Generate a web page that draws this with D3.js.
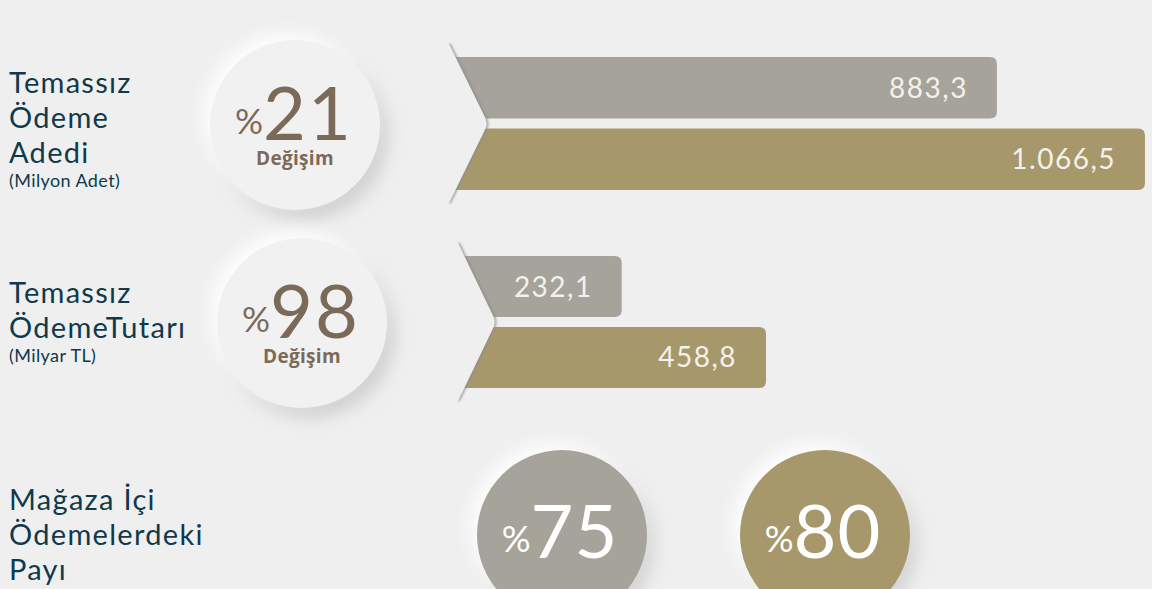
<!DOCTYPE html>
<html>
<head>
<meta charset="utf-8">
<script src="https://cdn.jsdelivr.net/npm/d3@7"></script>
<style>
  html, body { margin: 0; padding: 0; background: #efefef; }
  svg { display: block; }
</style>
</head>
<body>
<div id="chartContainer"></div>
<script>
// Row titles (left column) and units
const rowTitles = [["Temassız", "Ödeme", "Adedi"], ["Temassız", "ÖdemeTutarı"], ["Mağaza İçi", "Ödemelerdeki", "Payı"]];
const rowUnits = ["(Milyon Adet)", "(Milyar TL)", ""];

// Change in % shown in the round badges
const changePct = [21, 98];
const changeLabel = "Değişim";

// Bar values: previous period (grey) and current period (gold)
const seriesKeys = ["previous", "current"];
const previousValues = [883.3, 232.1];
const currentValues = [1066.5, 458.8];

// Share of in-store payments
const sharePct = [75, 80];

const colors = { previous: "#a6a39a", current: "#a7986c", title: "#0e3a4c", badge: "#7b6a58", bg: "#efefef" };

function createChart() {
    const width = 1152;
    const height = 589;

    const tr = d3.formatLocale({ decimal: ",", thousands: ".", grouping: [3], currency: ["", " TL"] });
    const fmt = tr.format(",.1f");

    const svg = d3.create("svg")
        .attr("width", width)
        .attr("height", height)
        .attr("viewBox", `0 0 ${width} ${height}`)
        .style("background", colors.bg);

    const defs = svg.append("defs");
    const soft = defs.append("filter").attr("id", "soft").attr("x", "-50%").attr("y", "-50%").attr("width", "200%").attr("height", "200%");
    soft.append("feGaussianBlur").attr("stdDeviation", 9);
    const edge = defs.append("filter").attr("id", "edge").attr("x", "-20%").attr("y", "-20%").attr("width", "140%").attr("height", "140%");
    edge.append("feDropShadow").attr("dx", 2).attr("dy", 0).attr("stdDeviation", 1.2)
        .attr("flood-color", "#8a8a8a").attr("flood-opacity", 0.7);

    // Left column titles
    const titleLayout = [
        { y: 93, unitY: 187 },
        { y: 303, unitY: 362 },
        { y: 510, unitY: 0 }
    ];
    rowTitles.forEach((lines, i) => {
        const g = svg.append("g");
        g.selectAll("text.t")
            .data(lines)
            .join("text")
            .attr("class", "t")
            .attr("x", 9)
            .attr("y", (d, j) => titleLayout[i].y + j * 35)
            .attr("fill", colors.title)
            .style("font", "29px Lato")
            .style("letter-spacing", "1.3px")
            .text(d => d);
        if (rowUnits[i]) {
            g.append("text")
                .attr("x", 9)
                .attr("y", titleLayout[i].unitY)
                .attr("fill", colors.title)
                .style("font", "18px Lato")
                .style("letter-spacing", "0.4px")
                .text(rowUnits[i]);
        }
    });

    // Bar rows
    const rows = [
        { y0: 57, y1: 190, chevTop: 44, chevBot: 203, chevX: 449, tipX: 488, zero: 283, end: 1145, badge: [295, 125] },
        { y0: 256, y1: 388, chevTop: 243, chevBot: 401, chevX: 458, tipX: 496, zero: 474, end: 766, badge: [302, 323] }
    ];

    rows.forEach((r, i) => {
        const values = [previousValues[i], currentValues[i]];
        const y = d3.scaleBand().domain(seriesKeys).range([r.y0, r.y1]).paddingInner(0.14);
        const x = d3.scaleLinear().domain([0, d3.max(values)]).range([r.zero, r.end]);
        const data = seriesKeys.map((k, j) => ({ key: k, value: values[j] }));
        const startX = r.chevX + 1;

        const g = svg.append("g");
        g.selectAll("path.bar")
            .data(data)
            .join("path")
            .attr("class", "bar")
            .attr("fill", d => colors[d.key])
            .attr("d", d => {
                const x1 = x(d.value), y0 = y(d.key), h = y.bandwidth(), rr = 7;
                return `M${startX},${y0}H${x1 - rr}Q${x1},${y0} ${x1},${y0 + rr}V${y0 + h - rr}Q${x1},${y0 + h} ${x1 - rr},${y0 + h}H${startX}Z`;
            });

        g.selectAll("text.val")
            .data(data)
            .join("text")
            .attr("class", "val")
            .attr("x", d => x(d.value) - 29)
            .attr("y", d => y(d.key) + y.bandwidth() / 2 + 10)
            .attr("text-anchor", "end")
            .attr("fill", "#f3f1ec")
            .style("font", "28px Lato")
            .style("letter-spacing", "1.5px")
            .text(d => fmt(d.value));

        // chevron notch over the bar starts (clipped so only the diagonal edges cast a shadow)
        const clipId = `chev-clip-${i}`;
        defs.append("clipPath").attr("id", clipId)
            .append("rect")
            .attr("x", r.chevX - 0.5).attr("y", r.chevTop - 10)
            .attr("width", 80).attr("height", r.chevBot - r.chevTop + 20);
        const midY = (r.chevTop + r.chevBot) / 2;
        const t = 0.9;
        const ax = r.chevX + (r.tipX - r.chevX) * t, ayT = r.chevTop + (midY - r.chevTop) * t, ayB = r.chevBot - (r.chevBot - midY) * t;
        svg.append("g").attr("clip-path", `url(#${clipId})`)
            .append("path")
            .attr("fill", colors.bg)
            .attr("filter", "url(#edge)")
            .attr("d", `M${r.chevX - 40},${r.chevTop}H${r.chevX}L${ax},${ayT}Q${r.tipX + 1},${midY} ${ax},${ayB}L${r.chevX},${r.chevBot}H${r.chevX - 40}Z`);

        // badge
        const [cx, cy] = r.badge;
        const b = svg.append("g");
        b.append("circle").attr("cx", cx + 8).attr("cy", cy + 10).attr("r", 84).attr("fill", "#cdcdcd").attr("filter", "url(#soft)");
        b.append("circle").attr("cx", cx - 7).attr("cy", cy - 7).attr("r", 84).attr("fill", "#ffffff").attr("filter", "url(#soft)");
        b.append("circle").attr("cx", cx).attr("cy", cy).attr("r", 85).attr("fill", "#f1f1f1");
        const num = b.append("text")
            .attr("x", cx - 1)
            .attr("y", cy + 15)
            .attr("text-anchor", "middle")
            .attr("fill", colors.badge);
        num.append("tspan").attr("dy", -6).style("font", "35px Lato").text("%");
        num.append("tspan").attr("dy", 6).style("font", "74px Lato").style("letter-spacing", "2px").text(changePct[i]);
        b.append("text")
            .attr("x", cx)
            .attr("y", cy + 40)
            .attr("text-anchor", "middle")
            .attr("fill", colors.badge)
            .style("font", "bold 19px 'Open Sans'")
            .style("letter-spacing", "0.3px")
            .text(changeLabel);
    });

    // Share circles
    const shareX = d3.scalePoint().domain(seriesKeys).range([562, 825]);
    const shareData = seriesKeys.map((k, j) => ({ key: k, value: sharePct[j] }));
    const sg = svg.append("g").selectAll("g")
        .data(shareData)
        .join("g")
        .attr("transform", d => `translate(${shareX(d.key)},535)`);
    sg.append("circle").attr("cx", 7).attr("cy", 9).attr("r", 84).attr("fill", "#cfcfcf").attr("filter", "url(#soft)");
    sg.append("circle").attr("cx", -7).attr("cy", -7).attr("r", 84).attr("fill", "#ffffff").attr("filter", "url(#soft)");
    sg.append("circle").attr("r", 85).attr("fill", d => colors[d.key]);
    const st = sg.append("text")
        .attr("x", -2)
        .attr("y", 23)
        .attr("text-anchor", "middle")
        .attr("fill", "#ffffff");
    st.append("tspan").attr("dy", -6).style("font", "36px Lato").text("%");
    st.append("tspan").attr("dy", 6).style("font", "74px Lato").style("letter-spacing", "1px").text(d => d.value);

    return svg.node();
}

document.getElementById("chartContainer").appendChild(createChart());
</script>
</body>
</html>
